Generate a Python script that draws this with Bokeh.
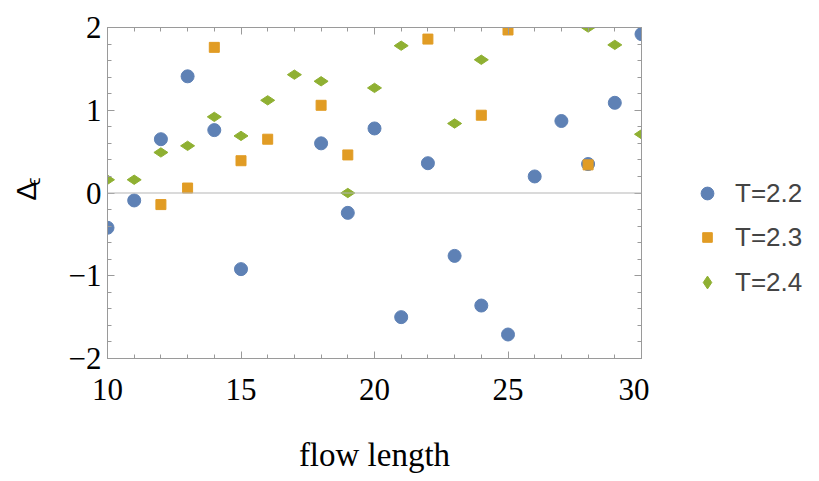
import math
from bokeh.plotting import figure
from bokeh.layouts import row
from bokeh.models import (LinearAxis, SingleIntervalTicker, Span, Label,
                          Legend, LegendItem, Range1d, ColumnDataSource)
from bokeh.embed import file_html
from bokeh.resources import INLINE

# ---- data ----
x_t22 = [10, 11, 12, 13, 14, 15, 18, 19, 20, 21, 22, 23, 24, 25, 26, 27, 28, 29, 30]
y_t22 = [-0.42, -0.09, 0.65, 1.41, 0.76, -0.92, 0.60, -0.24, 0.78, -1.50, 0.36, -0.76,
         -1.36, -1.71, 0.20, 0.87, 0.35, 1.09, 1.92]

x_t23 = [12, 13, 14, 15, 16, 18, 19, 22, 24, 25, 28]
y_t23 = [-0.14, 0.06, 1.76, 0.39, 0.65, 1.06, 0.46, 1.86, 0.94, 1.97, 0.34]

x_t24 = [10, 11, 12, 13, 14, 15, 16, 17, 18, 19, 20, 21, 23, 24, 28, 29, 30]
y_t24 = [0.16, 0.16, 0.49, 0.57, 0.92, 0.69, 1.12, 1.43, 1.35, 0.00, 1.27, 1.78, 0.84,
         1.61, 2.00, 1.79, 0.71]

series_labels = ["T=2.2", "T=2.3", "T=2.4"]
x_label = "flow length"
y_label_main = "Δ"
y_label_sub = "ϵ"
y_tick_overrides = {-2: "−2", -1: "−1", 0: "0", 1: "1", 2: "2"}

BLUE = "#5E81B5"
ORANGE = "#E19C24"
GREEN = "#8FB032"
FRAME = "#9a9a9a"
SERIF = "Liberation Serif"
SANS = "Liberation Sans"

H = 481
TOP, BOTTOM = 27, 123          # frame borders (shared by all panels in the row)
LEFT_W = 60
MAIN_W = 589
LEG_W = 819 - LEFT_W - MAIN_W

styles = [dict(marker="circle", size=13, fill_color=BLUE, line_color=BLUE),
          dict(marker="square", size=10, fill_color=ORANGE, line_color=ORANGE),
          dict(marker="diamond", size=14, fill_color=GREEN, line_color=GREEN)]
angles = [0.0, 0.0, math.pi / 2]

# ---------------- main plot ----------------
p = figure(width=MAIN_W, height=H, output_backend="svg", toolbar_location=None,
           x_range=Range1d(10, 30), y_range=Range1d(-2, 2),
           min_border_left=47, min_border_right=8, min_border_top=TOP, min_border_bottom=BOTTOM)
p.xgrid.visible = False
p.ygrid.visible = False
p.outline_line_color = FRAME
p.outline_line_width = 1
p.background_fill_color = "white"
p.border_fill_color = "white"

def style_axis(ax, labels=True):
    ax.axis_line_color = FRAME
    ax.major_tick_line_color = FRAME
    ax.minor_tick_line_color = FRAME
    ax.major_tick_in = 7
    ax.major_tick_out = 0
    ax.minor_tick_in = 4
    ax.minor_tick_out = 0
    if labels:
        ax.major_label_text_font = SERIF
        ax.major_label_text_font_size = "31px"
        ax.major_label_text_color = "black"
    else:
        ax.major_label_text_alpha = 0
        ax.major_label_text_font_size = "1px"
        ax.major_label_standoff = 0

p.xaxis.ticker = SingleIntervalTicker(interval=5, num_minor_ticks=5)
p.yaxis.ticker = SingleIntervalTicker(interval=1, num_minor_ticks=5)
style_axis(p.xaxis[0])
style_axis(p.yaxis[0])
p.xaxis.major_label_standoff = 20
p.yaxis.major_label_standoff = 6
p.yaxis.major_label_overrides = y_tick_overrides
p.xaxis.axis_label = x_label
p.xaxis.axis_label_text_font = SERIF
p.xaxis.axis_label_text_font_size = "33px"
p.xaxis.axis_label_text_font_style = "normal"
p.xaxis.axis_label_text_color = "black"
p.xaxis.axis_label_standoff = 34

top = LinearAxis(ticker=SingleIntervalTicker(interval=5, num_minor_ticks=5))
style_axis(top, labels=False)
right = LinearAxis(ticker=SingleIntervalTicker(interval=1, num_minor_ticks=5))
style_axis(right, labels=False)
p.add_layout(top, "above")
p.add_layout(right, "right")

p.add_layout(Span(location=0, dimension="width", line_color="#b5b5b5", line_width=1))

for xs, ys, st, a in zip([x_t22, x_t23, x_t24], [y_t22, y_t23, y_t24], styles, angles):
    p.scatter(xs, ys, angle=a, **st)

# ---------------- side panels (frames are aligned with the main frame) ----------------
def blank_fig(w):
    # y range chosen so that data y == (page height - page pixel row)
    f = figure(width=w, height=H, output_backend="svg", toolbar_location=None,
               x_range=Range1d(0, w), y_range=Range1d(BOTTOM, H - TOP),
               x_axis_type=None, y_axis_type=None,
               min_border_left=0, min_border_right=0,
               min_border_top=TOP, min_border_bottom=BOTTOM)
    f.xgrid.visible = False
    f.ygrid.visible = False
    f.outline_line_color = None
    f.border_fill_color = "white"
    f.background_fill_color = "white"
    return f

yl = blank_fig(LEFT_W)
yl.add_layout(Label(x=26, y=H - 200, text=y_label_main, angle=math.pi / 2,
                    text_align="left", text_baseline="alphabetic",
                    text_font=SANS, text_font_size="28px", text_color="black"))
yl.add_layout(Label(x=33, y=H - 185, text=y_label_sub, angle=math.pi / 2,
                    text_align="left", text_baseline="alphabetic",
                    text_font=SANS, text_font_size="18px", text_color="black"))

# one legend per series so that each legend marker gets its own size
lg = blank_fig(LEG_W)
leg_glyph = [32, 24, 32]          # legend marker size = 0.4 * glyph box
leg_loc = [(42, 149), (46, 105), (42, 60)]
leg_standoff = [12, 16, 12]
for lab, st, a, g, loc, so in zip(series_labels, styles, angles, leg_glyph, leg_loc, leg_standoff):
    src = ColumnDataSource(dict(x=[-1000], y=[-1000], angle=[a]))
    r = lg.scatter(x="x", y="y", angle="angle", source=src, **st)
    lgd = Legend(items=[LegendItem(label=lab, renderers=[r], index=0)], location=loc)
    lgd.border_line_color = None
    lgd.background_fill_alpha = 0
    lgd.label_text_font = SANS
    lgd.label_text_font_size = "26px"
    lgd.label_height = 32
    lgd.glyph_height = g
    lgd.glyph_width = g
    lgd.label_standoff = so
    lgd.padding = 0
    lgd.margin = 0
    lg.add_layout(lgd, "center")

layout = row(yl, p, lg, spacing=0)
open("out.html", "w").write(file_html(layout, INLINE))
